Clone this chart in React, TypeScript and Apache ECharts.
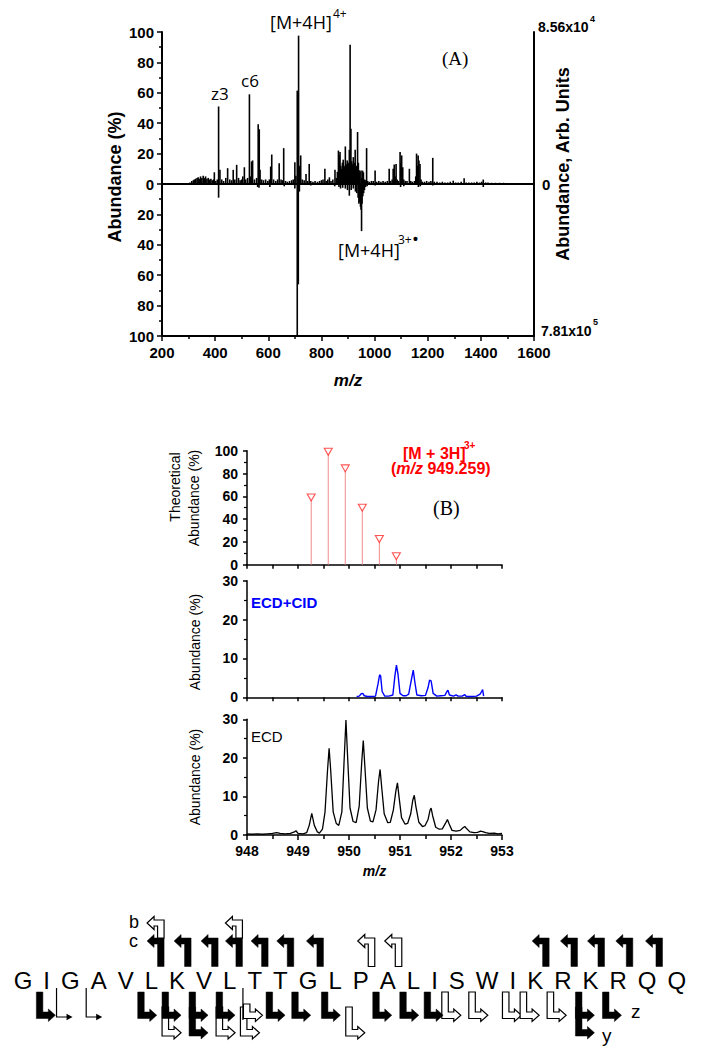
import React, { useEffect, useRef } from 'react';
import * as echarts from 'echarts';

const SANS = '"Liberation Sans", Arial, Helvetica, sans-serif';
const SERIF = '"Liberation Serif", "Times New Roman", serif';
const ANNOT = '"Open Sans", "Liberation Sans", sans-serif';

// ---------- Panel A : ECD spectrum (top, %) and reference (bottom, %) ----------
const A_POSITIVE: [number, number][] = [
  [305, 1], [312, 2], [318, 2.5], [322, 3], [327, 3.5], [332, 4], [336, 4.5], [340, 3.5], [345, 5], [350, 4],
  [355, 5.5], [360, 4], [364, 5], [369, 3.5], [374, 4], [379, 3], [384, 3.5], [389, 2.5], [394, 3], [397, 7.7],
  [402, 2], [408, 3], [413, 51], [418, 9.3], [425, 3], [432, 2], [440, 4], [447, 10.4], [455, 3], [462, 2.5],
  [468, 9.3], [474, 3], [481, 12.6], [488, 4], [494, 2.5], [500, 3], [504, 5], [510, 11], [515, 3], [522, 4],
  [529, 59], [533, 5], [537, 14.8], [541, 15.5], [548, 3], [556, 4], [562, 39.3], [566, 36], [569, 9.3], [575, 3],
  [582, 2.5], [590, 3], [598, 2], [604, 3], [609, 11.5], [613, 19.4], [620, 3], [628, 2], [635, 3], [641, 13.7],
  [648, 3], [653, 2.5], [658, 23.6], [665, 2], [672, 1.5], [680, 2], [688, 2.5], [694, 3], [700, 14.3], [704, 5.5],
  [709, 61.4], [714, 97.6], [717, 12], [722, 18.8], [728, 3], [735, 2.5], [742, 6.6], [748, 2], [754, 13.2], [760, 2],
  [768, 1.5], [776, 2], [785, 1.5], [793, 2], [800, 2.5], [806, 3], [813, 10], [818, 2], [824, 3], [830, 4.4],
  [836, 2], [843, 3], [851, 9.3], [856, 4], [860, 8], [864, 22], [867, 19], [870, 21], [873, 12], [876, 10],
  [879, 14], [882, 16], [885, 12], [888, 11], [890, 24.7], [893, 13], [895, 10], [897, 15.5], [900, 12], [903, 14],
  [905, 22.5], [908, 91.6], [911, 36.4], [914, 15], [917, 13], [920, 17.7], [923, 12], [925, 14], [927, 22.5], [930, 10],
  [933, 12], [936, 34.2], [939, 14], [942, 9], [945, 8], [949, 8.8], [952, 4], [955, 8.8], [958, 7.7], [962, 3],
  [966, 2.5], [970, 23.6], [974, 2], [980, 1.5], [988, 2], [995, 2], [1002, 8.8], [1008, 1.5], [1016, 2], [1024, 1.5],
  [1032, 2], [1040, 1.5], [1048, 2], [1055, 10], [1060, 2], [1066, 3], [1070, 10], [1074, 12.8], [1078, 5], [1081, 13.2],
  [1085, 3], [1090, 2], [1096, 21], [1099, 14], [1102, 18.8], [1106, 11], [1110, 3], [1116, 2], [1122, 2], [1131, 10],
  [1136, 2], [1142, 1.5], [1150, 2], [1155, 5], [1158, 20], [1161, 12], [1164, 18.8], [1167, 15.5], [1171, 13.2], [1175, 3],
  [1180, 1.5], [1188, 1.5], [1196, 2], [1205, 1.5], [1212, 2], [1219, 17.2], [1225, 1.5], [1235, 1.5], [1245, 1], [1255, 1.5],
  [1265, 1], [1275, 1], [1285, 1.5], [1296, 2.2], [1305, 1], [1315, 1], [1326, 1.5], [1337, 3.8], [1345, 1], [1355, 1],
  [1365, 1], [1375, 1], [1385, 1.5], [1395, 1], [1403, 1.5], [1409, 2.9], [1418, 1], [1427, 1], [1440, 0.8], [1455, 0.8],
  [1470, 0.8], [1485, 0.8], [1500, 0.6],
];
const A_NEGATIVE: [number, number][] = [
  [413, -9], [560, -2], [565, -2.5], [606, -2], [660, -1.5], [700, -3], [709, -100], [713, -66], [717, -5], [760, -1],
  [850, -1.5], [866, -2], [872, -3], [880, -2.5], [890, -3], [898, -4], [905, -7.7], [912, -4], [920, -3], [928, -5],
  [933, -6], [938, -9], [941, -13], [944, -12], [947, -15], [949, -17], [951, -31], [953, -13], [956, -8], [959, -6],
  [962, -4], [966, -2], [972, -1.5], [1002, -1], [1098, -2], [1110, -1.5], [1165, -2], [1172, -1.5], [1219, -1], [1409, -2],
];
const A_BASELINE: [number, number][] = [[200, 0], [1600, 0]];

// ---------- Panel B : isotope distributions ----------
const THEO_MZ = [949.259, 949.593, 949.927, 950.261, 950.595, 950.929];
const THEO_AB = [59, 99, 84.5, 50, 22.5, 7.5];

const ECD_CID: [number, number][] = [
  [950.15, 0.2], [950.2, 0.3], [950.24, 0.9], [950.27, 1.0], [950.3, 0.4], [950.36, 0.2], [950.45, 0.2], [950.52, 0.3],
  [950.57, 3.5], [950.6, 5.8], [950.62, 5.5], [950.65, 1.5], [950.7, 0.3], [950.78, 0.3], [950.86, 0.6], [950.9, 5.5],
  [950.93, 8.3], [950.96, 6], [951.0, 1], [951.06, 0.4], [951.12, 0.4], [951.17, 0.8], [951.23, 5], [951.26, 7],
  [951.29, 4], [951.33, 0.6], [951.42, 0.4], [951.5, 0.5], [951.55, 2.5], [951.58, 4.4], [951.61, 4.2], [951.65, 1],
  [951.72, 0.3], [951.8, 0.4], [951.88, 0.5], [951.92, 1.5], [951.94, 1.8], [951.97, 0.6], [952.05, 0.3], [952.1, 0.6],
  [952.14, 0.3], [952.22, 0.3], [952.27, 0.7], [952.3, 0.2], [952.4, 0.2], [952.5, 0.3], [952.57, 0.8], [952.6, 1.5],
  [952.62, 2.0], [952.64, 0.3],
];

const ECD: [number, number][] = [
  [948.0, 0.3], [948.1, 0.2], [948.2, 0.3], [948.3, 0.2], [948.4, 0.3], [948.5, 0.4], [948.58, 0.6], [948.65, 0.4],
  [948.75, 0.3], [948.85, 0.4], [948.93, 0.8], [948.96, 1.1], [949.0, 0.4], [949.1, 0.3], [949.17, 0.6], [949.22, 2.5],
  [949.27, 5.6], [949.32, 2.5], [949.38, 0.8], [949.42, 0.5], [949.48, 1.5], [949.53, 6], [949.58, 17], [949.61, 22.5],
  [949.64, 17], [949.69, 6], [949.75, 3], [949.8, 2.5], [949.86, 6], [949.91, 21], [949.94, 29.8], [949.97, 21],
  [950.02, 7], [950.08, 3.5], [950.14, 3.2], [950.2, 7.5], [950.25, 19], [950.28, 24.5], [950.31, 18], [950.36, 7],
  [950.42, 3.6], [950.47, 3.4], [950.53, 6.5], [950.58, 14], [950.61, 17], [950.64, 12.5], [950.69, 5.5], [950.76, 3.2],
  [950.81, 3.3], [950.87, 6.5], [950.92, 11.5], [950.95, 13.5], [950.98, 10], [951.03, 4.5], [951.1, 2.8], [951.15, 3],
  [951.21, 5.5], [951.25, 9], [951.28, 10.3], [951.31, 7.5], [951.37, 3.3], [951.44, 2.2], [951.49, 2.4], [951.55, 4],
  [951.59, 6.5], [951.61, 7], [951.64, 5], [951.7, 2], [951.77, 1.5], [951.83, 1.6], [951.89, 3], [951.93, 4],
  [951.96, 3], [952.02, 1.2], [952.1, 1], [952.18, 1.2], [952.23, 1.8], [952.27, 2.2], [952.31, 1.6], [952.37, 0.8],
  [952.45, 0.6], [952.52, 0.7], [952.58, 1.0], [952.62, 0.9], [952.68, 0.6], [952.75, 0.4], [952.85, 0.5], [952.92, 0.3],
  [953.0, 0.4],
];

// ---------- Sequence & fragment map (cleavage after residue n) ----------
const SEQUENCE = 'GIGAVLKVLTTGLPALISWIKRKRQQ'.split('');
const C_FILLED = [6, 7, 8, 9, 10, 11, 12, 21, 22, 23, 24, 25];
const C_HOLLOW = [14, 15];
const B_HOLLOW = [6, 9];
const Z_FILLED = [1, 5, 6, 7, 8, 10, 11, 12, 14, 15, 16, 22, 23];
const Z_THIN = [2, 3];
const Z_HOLLOW = [17, 18, 19, 20, 21];
const Z_THIN_HOLLOW = [9];
const Y_FILLED = [7, 22];
const Y_HOLLOW = [6, 8, 9, 13];

type Marker = { after: number; level: 'b' | 'c' | 'z' | 'y'; style: 'filled' | 'hollow' | 'thin' | 'thinHollow' };

function buildMarkers(): Marker[] {
  const out: Marker[] = [];
  Y_HOLLOW.forEach(a => out.push({ after: a, level: 'y', style: 'hollow' }));
  Y_FILLED.forEach(a => out.push({ after: a, level: 'y', style: 'filled' }));
  Z_THIN.forEach(a => out.push({ after: a, level: 'z', style: 'thin' }));
  Z_THIN_HOLLOW.forEach(a => out.push({ after: a, level: 'z', style: 'thinHollow' }));
  Z_HOLLOW.forEach(a => out.push({ after: a, level: 'z', style: 'hollow' }));
  Z_FILLED.forEach(a => out.push({ after: a, level: 'z', style: 'filled' }));
  C_HOLLOW.forEach(a => out.push({ after: a, level: 'c', style: 'hollow' }));
  C_FILLED.forEach(a => out.push({ after: a, level: 'c', style: 'filled' }));
  B_HOLLOW.forEach(a => out.push({ after: a, level: 'b', style: 'hollow' }));
  return out;
}

function layoutSequence() {
  const ctx = document.createElement('canvas').getContext('2d')!;
  ctx.font = '24px "Liberation Sans", Arial, sans-serif';
  const gap = 11;
  let x = 13.7;
  const centers: number[] = [];
  const boundaries: number[] = [];
  SEQUENCE.forEach(ch => {
    const w = ctx.measureText(ch).width;
    centers.push(x + w / 2);
    boundaries.push(x + w + gap / 2);
    x += w + gap;
  });
  return { centers, boundaries };
}

const LETTER_Y = 980;

function topShape(R: number, top: number, bottom: number) {
  const bw = 6.5, at = 6, hw = 7, hh = 13, len = 17;
  const tip = R - len, base = tip + hw, ay = top + at / 2;
  return [[R, top], [R, bottom], [R - bw, bottom], [R - bw, top + at], [base, top + at], [base, ay + hh / 2],
    [tip, ay], [base, ay - hh / 2], [base, top]];
}
function bottomShape(L: number, top: number, bottom: number) {
  const bw = 6.5, at = 6.5, hw = 7, hh = 12.5, len = 19;
  const tip = L + len, base = tip - hw, ay = bottom - at / 2;
  return [[L, top], [L + bw, top], [L + bw, bottom - at], [base, bottom - at], [base, ay - hh / 2], [tip, ay],
    [base, ay + hh / 2], [base, bottom], [L, bottom]];
}

function buildOption() {
  const { centers, boundaries } = layoutSequence();
  const markers = buildMarkers();
  const axisText = { color: '#000', fontWeight: 'bold', fontFamily: SANS };

  const stick = (color: string, width: number) => (params: any, api: any) => {
    const x = api.value(0), y = api.value(1);
    const a = api.coord([x, 0]);
    const b = api.coord([x, y]);
    return { type: 'line', shape: { x1: a[0], y1: a[1], x2: b[0], y2: b[1] }, style: { stroke: color, lineWidth: width } };
  };

  const hollowStyle = { fill: '#fff', stroke: '#000', lineWidth: 1.2 };
  const filledStyle = { fill: '#000', stroke: '#000', lineWidth: 0.5 };

  const markerRender = (params: any, api: any) => {
    const m = markers[params.dataIndex];
    const bx = api.coord([api.value(0), 0])[0];
    const st = m.style === 'filled' ? filledStyle : hollowStyle;
    if (m.level === 'c') {
      return { type: 'polygon', shape: { points: topShape(bx + 0.5, 938, 966.5) }, style: st };
    }
    if (m.level === 'b') {
      return { type: 'polygon', shape: { points: topShape(bx + 0.5, 920, 938) }, style: st };
    }
    if (m.level === 'y') {
      return { type: 'polygon', shape: { points: bottomShape(bx - 1.5, 1007, 1036) }, style: st };
    }
    if (m.style === 'thin') {
      const x = bx + 1;
      return {
        type: 'group', children: [
          { type: 'polyline', shape: { points: [[x, 988], [x, 1017], [x + 11, 1017]] }, style: { stroke: '#000', lineWidth: 1.2, fill: null } },
          { type: 'polygon', shape: { points: [[x + 10, 1013.7], [x + 16, 1017], [x + 10, 1020.3]] }, style: { fill: '#000' } },
        ],
      };
    }
    if (m.style === 'thinHollow') {
      const x = bx + 1;
      return {
        type: 'group', children: [
          { type: 'line', shape: { x1: x, y1: 988, x2: x, y2: 1020 }, style: { stroke: '#000', lineWidth: 1.2 } },
          { type: 'polygon', shape: { points: bottomShape(bx + 1.5, 1004, 1018.5) }, style: hollowStyle },
        ],
      };
    }
    return { type: 'polygon', shape: { points: bottomShape(bx - 1.5, 992, 1018.5) }, style: st };
  };

  const letterRender = (params: any, api: any) => {
    const p = api.coord([api.value(0), api.value(1)]);
    return {
      type: 'text', x: p[0], y: p[1],
      style: { text: SEQUENCE[params.dataIndex], font: `24px ${SANS}`, fill: '#000', textAlign: 'center', textVerticalAlign: 'middle', align: 'center', verticalAlign: 'middle' },
    };
  };

  const txt = (text: string, x: number, y: number, font: string, extra: any = {}) => ({
    type: 'text', x, y, z: 10,
    style: { text, font, fill: '#000', textAlign: 'left', textVerticalAlign: 'middle', align: 'left', verticalAlign: 'middle', ...extra },
  });
  const vtxt = (text: string, x: number, y: number, font: string) => ({
    type: 'text', x, y, rotation: Math.PI / 2, z: 10,
    style: { text, font, fill: '#000', textAlign: 'center', textVerticalAlign: 'middle', align: 'center', verticalAlign: 'middle' },
  });

  const bXaxis = (grid: number, labels: boolean) => ({
    gridIndex: grid, type: 'value', min: 948, max: 953, interval: labels ? 1 : 0.5,
    axisLine: { onZero: false, lineStyle: { color: '#000', width: 1.5 } },
    axisTick: { show: true, length: labels ? 5 : 4, lineStyle: { color: '#000', width: 1.5 } },
    minorTick: { show: labels, splitNumber: 2, length: 4, lineStyle: { color: '#000', width: 1.5 } },
    axisLabel: { show: labels, fontSize: 14, margin: 9, formatter: (v: number) => String(v), ...axisText },
    splitLine: { show: false },
    ...(labels ? {
      name: 'm/z', nameLocation: 'middle', nameGap: 29,
      nameTextStyle: { fontSize: 14, fontWeight: 'bold', fontStyle: 'italic', fontFamily: SANS, color: '#000' },
    } : {}),
  });
  const bYaxis = (grid: number, max: number, interval: number) => ({
    gridIndex: grid, type: 'value', min: 0, max, interval,
    axisLine: { show: true, lineStyle: { color: '#000', width: 1.5 } },
    axisTick: { show: true, length: 4, lineStyle: { color: '#000', width: 1.5 } },
    minorTick: { show: true, splitNumber: 2, length: 3, lineStyle: { color: '#000', width: 1.2 } },
    axisLabel: { fontSize: 14, margin: 9, ...axisText },
    splitLine: { show: false },
  });

  return {
    animation: false,
    backgroundColor: '#fff',
    grid: [
      { left: 162, top: 32, width: 372, height: 304 },
      { left: 247, top: 450.7, width: 255, height: 114 },
      { left: 247, top: 580.7, width: 255, height: 116.6 },
      { left: 247, top: 719.3, width: 255, height: 115.7 },
      { left: 0, top: 0, width: 701, height: 1050 },
    ],
    xAxis: [
      {
        gridIndex: 0, type: 'value', min: 200, max: 1600, interval: 200,
        name: 'm/z', nameLocation: 'middle', nameGap: 36,
        nameTextStyle: { fontSize: 17, fontWeight: 'bold', fontStyle: 'italic', fontFamily: SANS, color: '#000' },
        axisLine: { onZero: false, lineStyle: { color: '#000', width: 2 } },
        axisTick: { length: 5, lineStyle: { color: '#000', width: 1.5 } },
        minorTick: { show: true, splitNumber: 2, length: 3, lineStyle: { color: '#000', width: 1.5 } },
        axisLabel: { fontSize: 15, margin: 9, formatter: (v: number) => String(v), ...axisText },
        splitLine: { show: false },
      },
      bXaxis(1, false),
      bXaxis(2, false),
      bXaxis(3, true),
      { gridIndex: 4, type: 'value', min: 0, max: 701, show: false },
    ],
    yAxis: [
      {
        gridIndex: 0, type: 'value', min: -100, max: 100, interval: 20,
        axisLine: { show: true, lineStyle: { color: '#000', width: 2 } },
        axisTick: { show: true, length: 5, lineStyle: { color: '#000', width: 1.5 } },
        minorTick: { show: true, splitNumber: 2, length: 3, lineStyle: { color: '#000', width: 1.5 } },
        axisLabel: { fontSize: 15, margin: 8, formatter: (v: number) => String(Math.abs(v)), ...axisText },
        splitLine: { show: false },
      },
      {
        gridIndex: 0, type: 'value', position: 'right', min: -100, max: 100, interval: 100,
        axisLine: { show: true, lineStyle: { color: '#000', width: 2 } },
        axisTick: { show: false }, axisLabel: { show: false }, splitLine: { show: false },
      },
      bYaxis(1, 100, 20),
      bYaxis(2, 30, 10),
      bYaxis(3, 30, 10),
      { gridIndex: 4, type: 'value', min: 0, max: 1050, inverse: true, show: false },
    ],
    series: [
      { type: 'custom', xAxisIndex: 0, yAxisIndex: 0, renderItem: stick('#000', 1.6), data: A_POSITIVE, encode: { x: 0, y: 1 } },
      { type: 'custom', xAxisIndex: 0, yAxisIndex: 0, renderItem: stick('#000', 1.6), data: A_NEGATIVE, encode: { x: 0, y: 1 } },
      { type: 'line', xAxisIndex: 0, yAxisIndex: 0, data: A_BASELINE, symbol: 'none', lineStyle: { color: '#000', width: 2 } },
      {
        type: 'custom', xAxisIndex: 1, yAxisIndex: 2, renderItem: stick('#f08c8c', 1),
        data: THEO_MZ.map((m, i) => [m, THEO_AB[i]]), encode: { x: 0, y: 1 },
      },
      {
        type: 'scatter', xAxisIndex: 1, yAxisIndex: 2, data: THEO_MZ.map((m, i) => [m, THEO_AB[i]]),
        symbol: 'triangle', symbolRotate: 180, symbolSize: [8, 7],
        itemStyle: { color: '#fff', borderColor: '#ff2a2a', borderWidth: 1.1 }, z: 5,
      },
      {
        type: 'line', xAxisIndex: 2, yAxisIndex: 3, data: ECD_CID, symbol: 'none',
        lineStyle: { color: '#0000ff', width: 1.4 }, z: 4,
      },
      {
        type: 'line', xAxisIndex: 3, yAxisIndex: 4, data: ECD, symbol: 'none',
        lineStyle: { color: '#000', width: 1.3 }, z: 4,
      },
      {
        type: 'custom', xAxisIndex: 4, yAxisIndex: 5, renderItem: letterRender,
        data: centers.map(c => [c, LETTER_Y]), encode: { x: 0, y: 1 },
      },
      {
        type: 'custom', xAxisIndex: 4, yAxisIndex: 5, renderItem: markerRender,
        data: markers.map(m => [boundaries[m.after - 1], LETTER_Y]), encode: { x: 0, y: 1 },
      },
    ],
    graphic: [
      // Panel A annotations
      txt('[M+4H]', 270, 22, `18px ${ANNOT}`),
      txt('4+', 333, 13, `12px ${ANNOT}`),
      txt('z3', 211, 93, `17px ${ANNOT}`),
      txt('c6', 241, 80, `17px ${ANNOT}`),
      txt('(A)', 442, 58, `19px ${SERIF}`),
      txt('[M+4H]', 338, 250, `18px ${ANNOT}`),
      txt('3+', 398, 239, `12px ${ANNOT}`),
      txt('•', 413, 239, `bold 14px ${SANS}`),
      vtxt('Abundance (%)', 115, 177, `bold 18px ${SANS}`),
      vtxt('Abundance, Arb. Units', 563, 164, `bold 18px ${SANS}`),
      txt('8.56x10', 538, 27, `bold 14px ${SANS}`),
      txt('4', 590, 19, `bold 9px ${SANS}`),
      txt('0', 542, 184, `bold 15px ${SANS}`),
      txt('7.81x10', 541, 331, `bold 14px ${SANS}`),
      txt('5', 593, 322, `bold 9px ${SANS}`),
      // Panel B annotations
      txt('[M + 3H]', 403, 453, `bold 16px ${SANS}`, { fill: '#ff0000' }),
      txt('3+', 464, 445, `bold 10px ${SANS}`, { fill: '#ff0000' }),
      txt('({i|m/z} 949.259)', 391, 468, `bold 16px ${SANS}`, {
        fill: '#ff0000',
        rich: { i: { fontStyle: 'italic', fontWeight: 'bold', fontSize: 16, fontFamily: SANS, fill: '#ff0000', color: '#ff0000' } },
      }),
      txt('(B)', 433, 508, `20px ${SERIF}`),
      txt('ECD+CID', 251, 602, `bold 15px ${SANS}`, { fill: '#0000ff' }),
      txt('ECD', 251, 736, `15px ${SANS}`),
      vtxt('Theoretical', 175, 487, `14px ${SANS}`),
      vtxt('Abundance (%)', 194, 498, `14px ${SANS}`),
      vtxt('Abundance (%)', 195, 642, `14px ${SANS}`),
      vtxt('Abundance (%)', 195, 777, `14px ${SANS}`),
      // Sequence legend letters
      txt('b', 129, 922, `18px ${SANS}`),
      txt('c', 129, 941, `18px ${SANS}`),
      txt('z', 631, 1011, `19px ${SANS}`),
      txt('y', 602, 1035, `19px ${SANS}`),
    ],
  };
}

export default function App() {
  const ref = useRef<HTMLDivElement>(null);
  useEffect(() => {
    const chart = echarts.init(ref.current!, null, { renderer: 'svg' });
    chart.setOption(buildOption() as any);
    return () => chart.dispose();
  }, []);
  return <div ref={ref} style={{ position: 'absolute', left: 0, top: 0, width: 701, height: 1050, background: '#fff' }} />;
}
